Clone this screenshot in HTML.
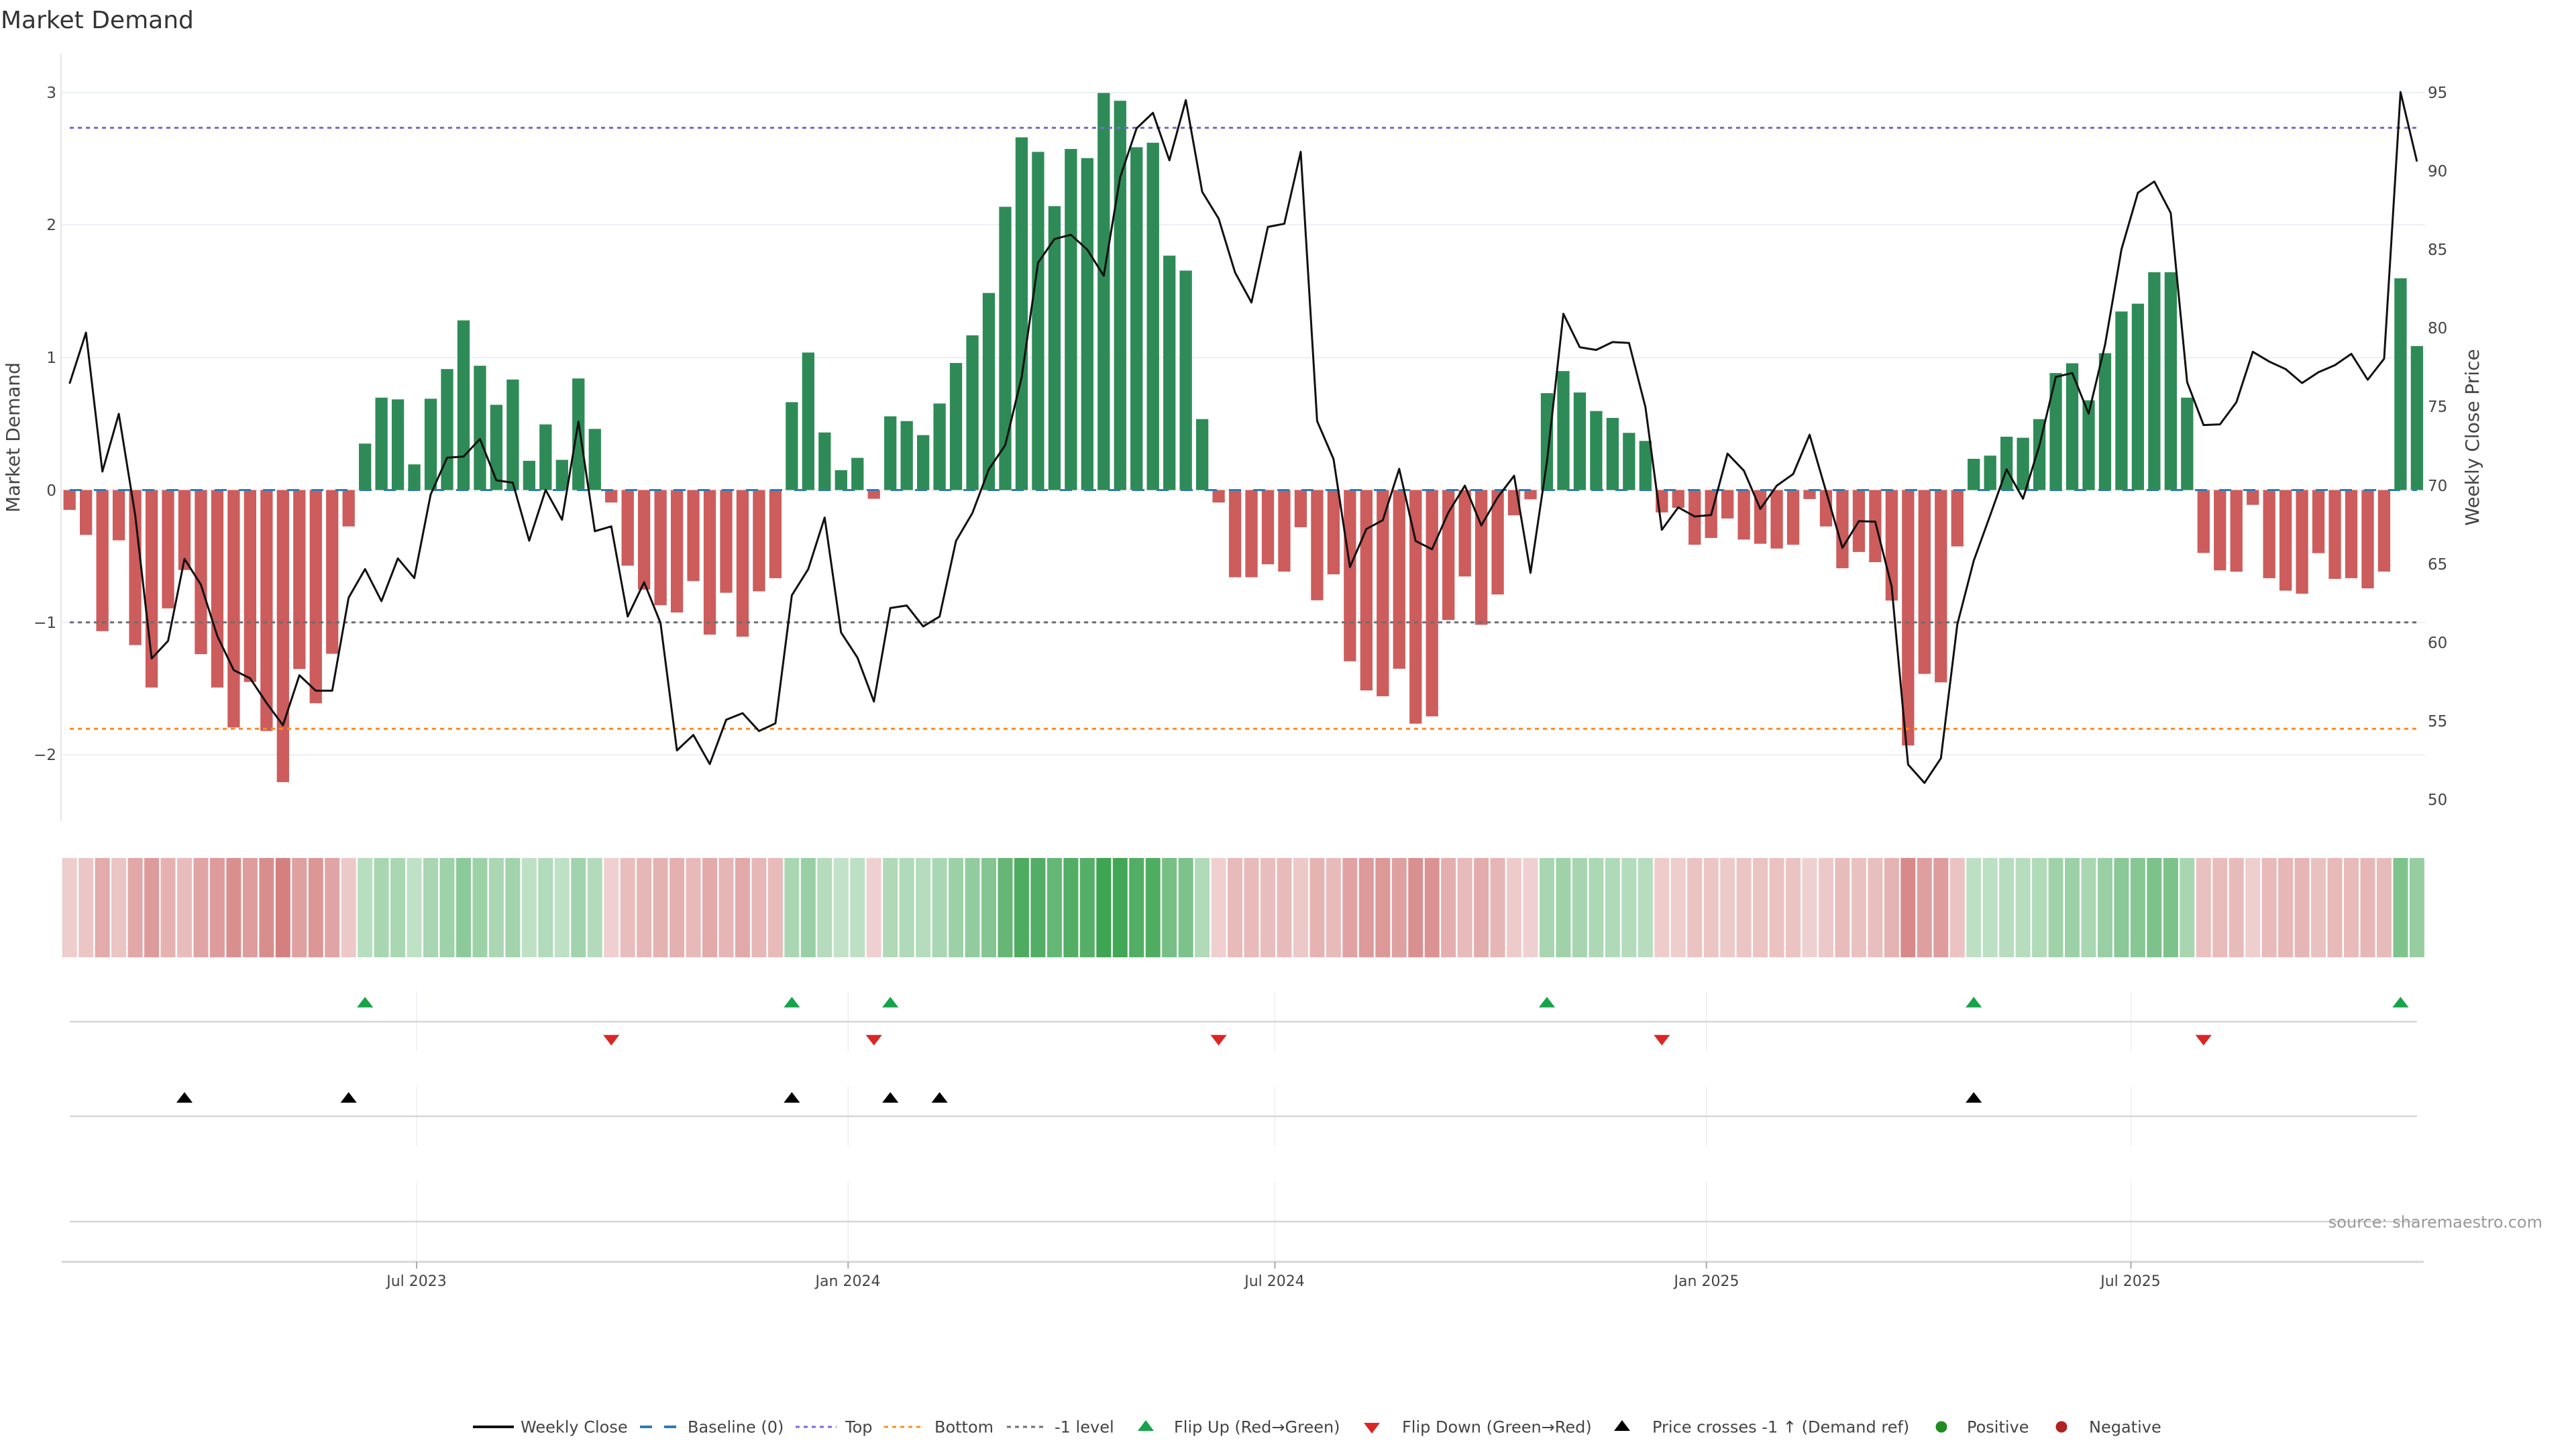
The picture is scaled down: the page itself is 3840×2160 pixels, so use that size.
<!DOCTYPE html>
<html>
<head>
<meta charset="utf-8">
<style>
html,body{margin:0;padding:0;background:#fff;}
svg{display:block;}
text{font-family:"DejaVu Sans","Liberation Sans",sans-serif;}
</style>
</head>
<body>
<svg id="c" width="3840" height="2160" viewBox="0 0 3840 2160" xmlns="http://www.w3.org/2000/svg">
<rect x="0" y="0" width="3840" height="2160" fill="#ffffff"/>

<!-- title -->
<text x="1" y="42" font-size="36" fill="#333">Market Demand</text>

<!-- main grid -->
<g id="grid" stroke="#ebeff5" stroke-width="2">
  <line x1="92" y1="138" x2="3615" y2="138"/>
  <line x1="92" y1="335.2" x2="3615" y2="335.2"/>
  <line x1="92" y1="533.2" x2="3615" y2="533.2"/>
  <line x1="92" y1="730.5" x2="3615" y2="730.5"/>
  <line x1="92" y1="927.8" x2="3615" y2="927.8"/>
  <line x1="92" y1="1125.1" x2="3615" y2="1125.1"/>
</g>
<line x1="91" y1="80" x2="91" y2="1224" stroke="#e6e6e6" stroke-width="2"/>

<g id="bars"></g>
<g id="refs" fill="none" stroke-width="3">
  <line x1="104" y1="730.5" x2="3603" y2="730.5" stroke="#2f7bb5" stroke-dasharray="18,18"/>
  <line x1="104" y1="190.5" x2="3603" y2="190.5" stroke="#7b6ad8" stroke-dasharray="6,6"/>
  <line x1="104" y1="1086.4" x2="3603" y2="1086.4" stroke="#ff8c1a" stroke-dasharray="6,6"/>
  <line x1="104" y1="927.8" x2="3603" y2="927.8" stroke="#6e6e6e" stroke-dasharray="6,6"/>
</g>
<g id="price"></g>

<!-- left ticks -->
<g font-size="23" fill="#444" text-anchor="end">
  <text x="84" y="146">3</text>
  <text x="84" y="343">2</text>
  <text x="84" y="541">1</text>
  <text x="84" y="739">0</text>
  <text x="84" y="936">−1</text>
  <text x="84" y="1133">−2</text>
</g>
<!-- right ticks -->
<g font-size="23" fill="#444" text-anchor="start">
  <text x="3619" y="146">95</text>
  <text x="3619" y="263">90</text>
  <text x="3619" y="380">85</text>
  <text x="3619" y="497">80</text>
  <text x="3619" y="614">75</text>
  <text x="3619" y="732">70</text>
  <text x="3619" y="849">65</text>
  <text x="3619" y="966">60</text>
  <text x="3619" y="1083">55</text>
  <text x="3619" y="1200">50</text>
</g>
<text transform="translate(29,652) rotate(-90)" font-size="28" fill="#444" text-anchor="middle">Market Demand</text>
<text transform="translate(3695,652) rotate(-90)" font-size="28" fill="#444" text-anchor="middle">Weekly Close Price</text>

<!-- heat strip -->
<g id="heat"></g>

<!-- marker panels -->
<g id="mgrid" stroke="#eceef2" stroke-width="1.5"></g>
<g stroke="#d6d6d6" stroke-width="2.5">
  <line x1="104" y1="1523" x2="3603" y2="1523"/>
  <line x1="104" y1="1664" x2="3603" y2="1664"/>
  <line x1="104" y1="1821" x2="3603" y2="1821"/>
  <line x1="92" y1="1881" x2="3613" y2="1881" stroke-width="3"/>
</g>
<g id="ticks" stroke="#aaaaaa" stroke-width="2"></g>
<g font-size="22" fill="#444" text-anchor="middle">
  <text x="621" y="1917">Jul 2023</text>
  <text x="1264" y="1917">Jan 2024</text>
  <text x="1900" y="1917">Jul 2024</text>
  <text x="2544" y="1917">Jan 2025</text>
  <text x="3176" y="1917">Jul 2025</text>
</g>
<g id="marks"></g>

<text x="3790" y="1830" font-size="24" fill="#999" text-anchor="end">source: sharemaestro.com</text>

<!-- legend -->
<g>
  <line x1="705" y1="2127" x2="766" y2="2127" stroke="#111" stroke-width="4"/>
  <line x1="954" y1="2127" x2="1012" y2="2127" stroke="#2f7bb5" stroke-width="4" stroke-dasharray="18,18"/>
  <line x1="1186" y1="2127" x2="1247" y2="2127" stroke="#7b6ad8" stroke-width="3" stroke-dasharray="6,6"/>
  <line x1="1318" y1="2127" x2="1376" y2="2127" stroke="#ff8c1a" stroke-width="3" stroke-dasharray="6,6"/>
  <line x1="1501" y1="2127" x2="1559" y2="2127" stroke="#6e6e6e" stroke-width="3" stroke-dasharray="6,6"/>
  <path d="M1696,2133 L1720,2133 L1708,2117 Z" fill="#17a34a"/>
  <path d="M2033,2121 L2057,2121 L2045,2137 Z" fill="#dc2626"/>
  <path d="M2406,2133 L2430,2133 L2418,2117 Z" fill="#000"/>
  <circle cx="2894" cy="2127" r="8.5" fill="#228b22"/>
  <circle cx="3073" cy="2127" r="8.5" fill="#b22222"/>
  <g font-size="24" fill="#444">
    <text x="776" y="2135.5">Weekly Close</text>
    <text x="1025" y="2135.5">Baseline (0)</text>
    <text x="1260" y="2135.5">Top</text>
    <text x="1393" y="2135.5">Bottom</text>
    <text x="1572" y="2135.5">-1 level</text>
    <text x="1750" y="2135.5">Flip Up (Red→Green)</text>
    <text x="2090" y="2135.5">Flip Down (Green→Red)</text>
    <text x="2463" y="2135.5">Price crosses -1 ↑ (Demand ref)</text>
    <text x="2932" y="2135.5">Positive</text>
    <text x="3114" y="2135.5">Negative</text>
  </g>
</g>
</svg>

<script>
(function(){
var V=[-0.150,-0.339,-1.066,-0.380,-1.171,-1.492,-0.894,-0.604,-1.240,-1.492,
-1.794,-1.45,-1.820,-2.207,-1.352,-1.611,-1.237,-0.275,0.351,0.698,
0.685,0.194,0.690,0.914,1.282,0.939,0.644,0.835,0.221,0.496,
0.228,0.843,0.462,-0.094,-0.571,-0.752,-0.870,-0.925,-0.688,-1.092,
-0.776,-1.108,-0.765,-0.666,0.664,1.039,0.435,0.150,0.243,-0.066,
0.557,0.521,0.415,0.654,0.960,1.169,1.489,2.140,2.665,2.555,
2.145,2.577,2.508,3.000,2.941,2.590,2.624,1.771,1.658,0.536,
-0.094,-0.659,-0.659,-0.561,-0.616,-0.281,-0.833,-0.637,-1.294,-1.514,
-1.558,-1.350,-1.765,-1.710,-0.982,-0.653,-1.018,-0.789,-0.191,-0.070,
0.732,0.899,0.737,0.597,0.545,0.432,0.371,-0.169,-0.134,-0.413,
-0.362,-0.215,-0.374,-0.406,-0.442,-0.413,-0.068,-0.275,-0.591,-0.468,
-0.545,-0.835,-1.930,-1.389,-1.453,-0.426,0.236,0.260,0.403,0.395,
0.536,0.884,0.958,0.678,1.034,1.349,1.408,1.646,1.646,0.698,
-0.475,-0.607,-0.617,-0.112,-0.666,-0.760,-0.783,-0.477,-0.671,-0.666,
-0.743,-0.616,1.600,1.088];
var P=[76.47,79.72,70.88,74.55,68.09,58.98,60.10,65.32,63.68,60.41,
58.24,57.72,56.15,54.73,57.91,56.93,56.93,62.85,64.67,62.63,
65.35,64.10,69.43,71.76,71.83,72.95,70.32,70.17,66.48,69.71,
67.81,74.06,67.08,67.39,61.65,63.83,61.24,53.13,54.11,52.26,
55.08,55.50,54.36,54.85,63.00,64.67,67.95,60.63,59.03,56.24,
62.19,62.35,61.02,61.65,66.46,68.24,71.02,72.56,76.88,84.17,
85.68,85.95,85.00,83.34,89.61,92.72,93.71,90.69,94.52,88.68,
86.98,83.55,81.64,86.45,86.65,91.23,74.09,71.67,64.80,67.22,
67.78,71.05,66.46,65.93,68.28,69.98,67.45,69.24,70.61,64.43,
71.5,80.92,78.79,78.62,79.12,79.06,74.98,67.17,68.60,68.02,
68.11,72.02,70.93,68.50,69.98,70.72,73.22,69.63,66.02,67.72,
67.69,63.56,52.23,51.06,52.63,61.15,65.20,68.09,71.02,69.15,
72.54,76.90,77.15,74.56,78.95,85.02,88.62,89.34,87.34,76.57,
73.84,73.88,75.29,78.50,77.88,77.40,76.51,77.20,77.65,78.37,
76.72,78.06,95.03,90.61];
var NS="http://www.w3.org/2000/svg";
var X0=103.7,DX=24.47;
function x(i){return X0+DX*i;}
function yv(v){return 730.5-197.3*v;}
function yp(p){return 138+(95-p)*23.42;}
function el(tag,a,parent){var e=document.createElementNS(NS,tag);for(var k in a)e.setAttribute(k,a[k]);parent.appendChild(e);return e;}
var bars=document.getElementById('bars');
var heat=document.getElementById('heat');
var i;
for(i=0;i<V.length;i++){
  var v=V[i],cx=x(i);
  if(v>=0){el('rect',{x:(cx-9.15).toFixed(2),y:yv(v).toFixed(2),width:18.3,height:(197.3*v).toFixed(2),fill:'#2e8b57'},bars);}
  else{el('rect',{x:(cx-9.15).toFixed(2),y:730.5,width:18.3,height:(-197.3*v).toFixed(2),fill:'#cd5c5c'},bars);}
  var t=0.27+0.68*Math.min(Math.abs(v)/3,1);
  var base=v>=0?[52,160,74]:[200,90,90];
  var c=base.map(function(b){return Math.round(255-t*(255-b));});
  el('rect',{x:(cx-11).toFixed(2),y:1279,width:22,height:148,fill:'rgb('+c.join(',')+')'},heat);
}
var pts=[];
for(i=0;i<P.length;i++){pts.push(x(i).toFixed(2)+','+yp(P[i]).toFixed(2));}
el('polyline',{points:pts.join(' '),fill:'none',stroke:'#111',"stroke-width":3,"stroke-linejoin":'round'},document.getElementById('price'));
var TX=[621,1264.3,1900.5,2543.7,3176.5];
var mg=document.getElementById('mgrid'),tk=document.getElementById('ticks');
TX.forEach(function(t){
  [[1478,1567],[1620,1708],[1762,1881]].forEach(function(r){el('line',{x1:t,y1:r[0],x2:t,y2:r[1]},mg);});
  el('line',{x1:t,y1:1881,x2:t,y2:1891},tk);
});
var mk=document.getElementById('marks');
function up(cx,cy,col){el('path',{d:'M'+(cx-12.1)+','+(cy+5.25)+' L'+(cx+12.1)+','+(cy+5.25)+' L'+cx+','+(cy-10.5)+' Z',fill:col},mk);}
function dn(cx,cy,col){el('path',{d:'M'+(cx-12.1)+','+(cy-5.25)+' L'+(cx+12.1)+','+(cy-5.25)+' L'+cx+','+(cy+10.5)+' Z',fill:col},mk);}
[18,44,50,90,116,142].forEach(function(k){up(x(k),1496.5,'#17a34a');});
[33,49,70,97,130].forEach(function(k){dn(x(k),1548,'#dc2626');});
[7,17,44,50,53,116].forEach(function(k){up(x(k),1638.5,'#000000');});
})();
</script>
</body>
</html>
